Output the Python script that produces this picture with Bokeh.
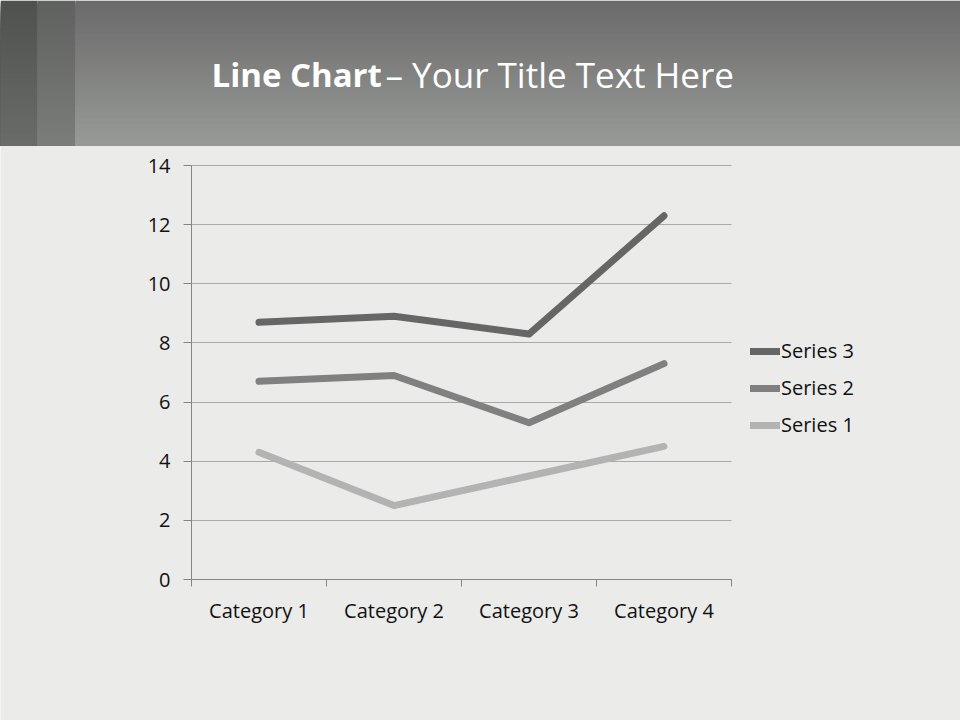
from bokeh.plotting import figure
from bokeh.models import (Range1d, FixedTicker, Legend, LegendItem, LinearAxis, Grid)
from bokeh.core.properties import value
from bokeh.embed import file_html
from bokeh.resources import INLINE

# ---- data ----
categories = ["Category 1", "Category 2", "Category 3", "Category 4"]
series_names = ["Series 1", "Series 2", "Series 3"]
series1 = [4.3, 2.5, 3.5, 4.5]
series2 = [6.7, 6.9, 5.3, 7.3]
series3 = [8.7, 8.9, 8.3, 12.3]
y_ticks = [0, 2, 4, 6, 8, 10, 12, 14]

FONT = "Open Sans"
W, H = 960, 720
BG = "#ebebea"
HEAD_H = 145

# plot-area placement (pixels, top-left origin)
PX_L, PX_R = 191, 731
PX_T, PX_B = 165, 579
N_CAT = len(categories)
Y_MAX = 14

ppx = (PX_R - PX_L) / N_CAT
ppy = (PX_B - PX_T) / Y_MAX

p = figure(width=W, height=H, output_backend="svg", toolbar_location=None,
           x_range=Range1d(-PX_L / ppx, (W - PX_L) / ppx),
           y_range=Range1d(-(H - PX_B) / ppy, PX_B / ppy),
           min_border=0, background_fill_color=BG, border_fill_color=BG,
           x_axis_type=None, y_axis_type=None)
p.outline_line_color = None
p.extra_x_ranges = {"px": Range1d(0, W)}
p.extra_y_ranges = {"py": Range1d(H, 0)}


def lerp_color(c1, c2, t):
    a = [int(c1[i:i + 2], 16) for i in (1, 3, 5)]
    b = [int(c2[i:i + 2], 16) for i in (1, 3, 5)]
    return "#%02x%02x%02x" % tuple(int(round(a[k] + (b[k] - a[k]) * t)) for k in range(3))


# ---- header band (decoration): overlapping bands so no seams ----
N = 48
bands = [(0, 37, "#4f514f", "#6a6c6a"), (37, 75, "#5f615f", "#7b7d7b"), (75, W, "#6a6a6a", "#989a97")]
for x0, x1, ctop, cbot in bands:
    tops, cols = [], []
    for i in range(N):
        tops.append(HEAD_H * i / N)
        cols.append(lerp_color(ctop, cbot, (i + 0.5) / N))
    p.quad(left=x0, right=x1, top=tops, bottom=HEAD_H, fill_color=cols, line_color=None,
           x_range_name="px", y_range_name="py")

p.text(x=[211], y=[74], text=["Line Chart"], text_color="white", text_font=value(FONT),
       text_font_style="bold", text_font_size="33px", text_baseline="alphabetic",
       x_range_name="px", y_range_name="py")
p.text(x=[385], y=[74], text=["– Your Title Text Here"], text_color="white", text_font=value(FONT),
       text_font_size="35px", text_baseline="alphabetic",
       x_range_name="px", y_range_name="py")

# ---- axes ----
xs = [i + 0.5 for i in range(N_CAT)]

yax = LinearAxis(ticker=FixedTicker(ticks=y_ticks), fixed_location=0, bounds=(0, Y_MAX))
yax.axis_line_color = "#868686"
yax.major_tick_line_color = "#868686"
yax.major_tick_in = 0
yax.major_tick_out = 8
yax.minor_tick_line_color = None
yax.major_label_text_font = FONT
yax.major_label_text_font_size = "20px"
yax.major_label_text_color = "#111111"
yax.major_label_standoff = 13
p.add_layout(yax, "left")

xax = LinearAxis(ticker=FixedTicker(ticks=xs, minor_ticks=list(range(N_CAT + 1))),
                 fixed_location=0, bounds=(0, N_CAT))
xax.axis_line_color = "#868686"
xax.major_tick_line_color = None
xax.major_tick_in = 0
xax.major_tick_out = 0
xax.minor_tick_line_color = "#868686"
xax.minor_tick_in = 0
xax.minor_tick_out = 7
xax.major_label_overrides = {x: c for x, c in zip(xs, categories)}
xax.major_label_text_font = FONT
xax.major_label_text_font_size = "20px"
xax.major_label_text_color = "#111111"
xax.major_label_standoff = 10
p.add_layout(xax, "below")

GRID_COLOR = "#a9a9a9"
if "cross_bounds" in Grid.properties():
    g = Grid(dimension=1, ticker=FixedTicker(ticks=y_ticks), grid_line_color=GRID_COLOR,
             cross_bounds=(0, N_CAT))
    p.add_layout(g)
else:
    p.segment(x0=0, x1=N_CAT, y0=y_ticks, y1=y_ticks, line_color=GRID_COLOR, line_width=1)

# ---- lines ----
colors = ["#b3b3b3", "#808080", "#666666"]
renderers = []
for ys, col in zip([series1, series2, series3], colors):
    r = p.line(xs, ys, line_color=col, line_width=7, line_cap="round", line_join="round")
    renderers.append(r)

legend = Legend(items=[LegendItem(label=series_names[i], renderers=[renderers[i]]) for i in (2, 1, 0)],
                location=(750, 282), orientation="vertical")
legend.background_fill_alpha = 0
legend.border_line_color = None
legend.padding = 0
legend.margin = 0
legend.spacing = 10
legend.glyph_width = 30
legend.glyph_height = 20
legend.label_height = 20
legend.label_standoff = 1
legend.label_text_font = FONT
legend.label_text_font_size = "20px"
legend.label_text_color = "#111111"
p.add_layout(legend, "center")

open("out.html", "w").write(file_html(p, INLINE))
